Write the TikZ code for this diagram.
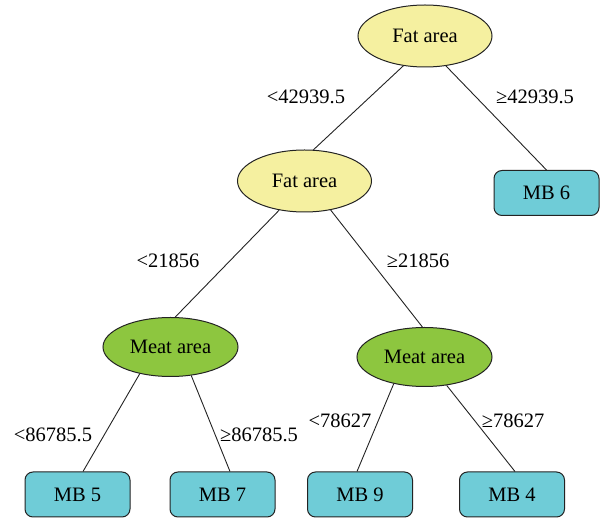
\documentclass[tikz,border=0pt]{standalone}
\usepackage{fontspec}
\setmainfont{Liberation Serif}
\usetikzlibrary{shapes.geometric,calc}
\definecolor{fatyellow}{RGB}{245,240,160}
\definecolor{meatgreen}{RGB}{141,198,63}
\definecolor{mbcyan}{RGB}{111,204,215}
\definecolor{edgegray}{RGB}{35,35,35}
\tikzset{
  fatnode/.style={ellipse,draw=edgegray,line width=1pt,fill=fatyellow,minimum width=134pt,minimum height=62pt,inner sep=0pt},
  meatnode/.style={ellipse,draw=edgegray,line width=1pt,fill=meatgreen,minimum width=135pt,minimum height=59pt,inner sep=0pt},
  mbnode/.style={rectangle,rounded corners=8pt,draw=edgegray,line width=1pt,fill=mbcyan,minimum width=105pt,minimum height=45pt,inner sep=0pt},
  link/.style={draw=edgegray,line width=0.9pt},
  cond/.style={inner sep=0pt}
}
\begin{document}
\begin{tikzpicture}[x=1pt,y=-1pt,font=\fontsize{20.5}{24}\selectfont]
\useasboundingbox (0,0) rectangle (606,518);
\node[fatnode] (top) at (425,36) {Fat area};
\node[fatnode] (fat2) at (304.5,181) {Fat area};
\node[meatnode] (meatL) at (170.5,347) {Meat area};
\node[meatnode] (meatR) at (424.5,357) {Meat area};
\node[mbnode] (mb6) at (546.5,193) {MB 6};
\node[mbnode] (mb5) at (77.5,494.5) {MB 5};
\node[mbnode] (mb7) at (222.5,494.5) {MB 7};
\node[mbnode] (mb9) at (360,494.5) {MB 9};
\node[mbnode] (mb4) at (512,494.5) {MB 4};
\draw[link] (top.234.6) -- (fat2.74.7);
\draw[link] (top.305.4) -- (mb6.north);
\draw[link] (fat2.229.5) -- (meatL.81.5);
\draw[link] (fat2.312.6) -- (meatR.94.6);
\draw[link] (meatL.221) -- ($(mb5.north)+(5.5,0)$);
\draw[link] (meatL.306) -- ($(mb7.north)+(7.5,0)$);
\draw[link] (meatR.221.4) -- ($(mb9.north)+(-3,0)$);
\draw[link] (meatR.308) -- ($(mb4.north)+(3,0)$);
\node[cond] (c1) at (306,97) {<42939.5};
\node[cond] (c2) at (535,97) {≥42939.5};
\node[cond] (c3) at (168,261) {<21856};
\node[cond] (c4) at (418,261) {≥21856};
\node[cond] (c5) at (53,435) {<86785.5};
\node[cond] (c6) at (259,435) {≥86785.5};
\node[cond] (c7) at (340,421) {<78627};
\node[cond] (c8) at (513,421) {≥78627};
\end{tikzpicture}
\end{document}
